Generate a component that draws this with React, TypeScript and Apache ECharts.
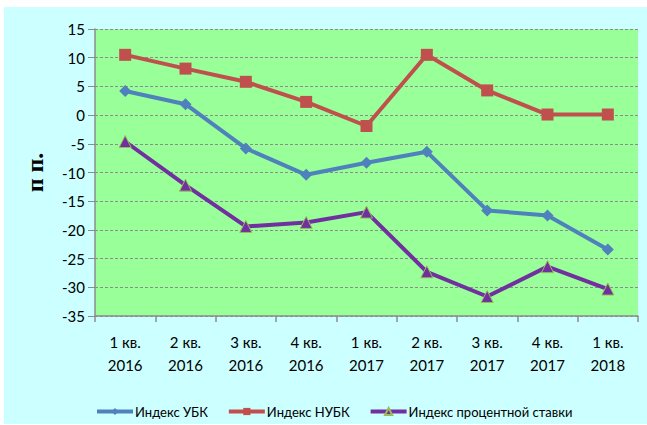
import React, { useEffect, useRef } from "react";
import * as echarts from "echarts";

const categories = ["1 кв.\n2016", "2 кв.\n2016", "3 кв.\n2016", "4 кв.\n2016", "1 кв.\n2017", "2 кв.\n2017", "3 кв.\n2017", "4 кв.\n2017", "1 кв.\n2018"];
const ubk = [4.2, 1.9, -5.8, -10.4, -8.3, -6.4, -16.6, -17.5, -23.4];
const nubk = [10.5, 8.1, 5.8, 2.3, -1.9, 10.5, 4.3, 0.1, 0.1];
const rate = [-4.6, -12.2, -19.4, -18.7, -16.9, -27.3, -31.6, -26.4, -30.3];
const seriesNames = ["Индекс УБК", "Индекс НУБК", "Индекс процентной ставки"];

const FONT = "Lato";

export default function App() {
  const ref = useRef<HTMLDivElement>(null);
  useEffect(() => {
    if (!ref.current) return;
    const chart = echarts.init(ref.current, null, { renderer: "svg" });
    chart.setOption({
      animation: false,
      backgroundColor: "transparent",
      graphic: [
        { type: "rect", z: -10, shape: { x: 4, y: 7, width: 643, height: 417 }, style: { fill: "#ccffff" }, silent: true },
      ],
      grid: {
        left: 95, top: 29, right: 9, bottom: 109, show: true,
        backgroundColor: "#99ff99", borderWidth: 0,
      },
      legend: {
        left: 90, top: 400, itemWidth: 36, itemHeight: 9, itemGap: 19,
        lineStyle: { width: 4 },
        textStyle: { fontFamily: FONT, fontSize: 13, color: "#000", padding: [0, 0, 0, -3] },
        data: seriesNames,
      },
      xAxis: [
        {
          type: "category", data: categories, position: "bottom",
          axisLine: { show: false }, axisTick: { show: false },
          axisLabel: { fontFamily: FONT, fontSize: 15, color: "#000", lineHeight: 23, margin: 14 },
          splitLine: { show: false },
        },
        {
          type: "category", data: categories, position: "bottom",
          axisLine: { show: true, onZero: true, lineStyle: { color: "#8c8c8c", width: 1.5 } },
          axisTick: { show: true, length: 6, lineStyle: { color: "#8c8c8c", width: 1.5 } },
          axisLabel: { show: false },
          splitLine: { show: false },
        },
      ],
      yAxis: {
        type: "value", min: -35, max: 15, interval: 5,
        name: "п п.", nameLocation: "middle", nameRotate: 90, nameGap: 48,
        nameTextStyle: { fontFamily: "Liberation Serif", fontWeight: "bold", fontSize: 24, color: "#000" },
        axisLine: { show: true, lineStyle: { color: "#8c8c8c", width: 1.5 } },
        axisTick: { show: true, length: 7, lineStyle: { color: "#8c8c8c" } },
        axisLabel: { fontFamily: FONT, fontSize: 15, color: "#000", margin: 10 },
        splitLine: { show: true, lineStyle: { color: "#8c8c8c", type: [3, 2], width: 1 } },
      },
      series: [
        {
          name: seriesNames[0], type: "line", data: ubk, xAxisIndex: 0,
          symbol: "diamond", symbolSize: 12,
          lineStyle: { color: "#4f81bd", width: 4 },
          itemStyle: { color: "#4f81bd" },
        },
        {
          name: seriesNames[1], type: "line", data: nubk, xAxisIndex: 0,
          symbol: "rect", symbolSize: 12,
          lineStyle: { color: "#c0504d", width: 4 },
          itemStyle: { color: "#c0504d" },
        },
        {
          name: seriesNames[2], type: "line", data: rate, xAxisIndex: 0,
          symbol: "triangle", symbolSize: 12,
          lineStyle: { color: "#7030a0", width: 4 },
          itemStyle: { color: "#7030a0", borderColor: "#9bbb59", borderWidth: 1 },
        },
      ],
    });
    return () => chart.dispose();
  }, []);
  return (
    <div style={{ position: "absolute", left: 0, top: 0, width: 647, height: 425 }}>
      <div ref={ref} style={{ width: 647, height: 425 }} />
    </div>
  );
}
